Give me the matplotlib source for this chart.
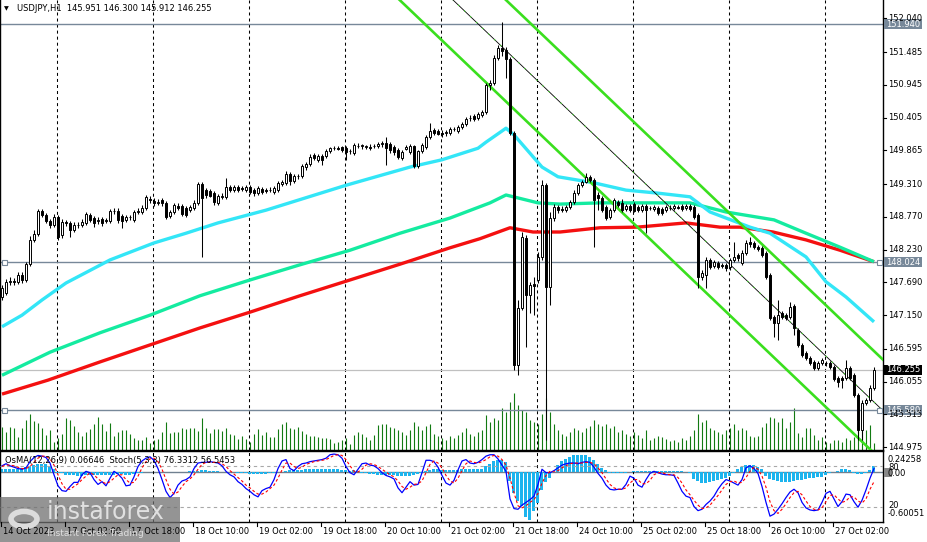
import matplotlib
matplotlib.use("Agg")
import matplotlib.pyplot as plt
import matplotlib.transforms as mtransforms
from matplotlib.patches import Rectangle, Circle
import numpy as np

plt.rcParams['font.family'] = ['DejaVu Sans']

# ---------------------------------------------------------------- data (USDJPY H1)
opens = [
    147.45, 147.52, 147.70, 147.71, 147.70, 147.81, 147.73, 147.99, 148.39, 148.49,
    148.87, 148.80, 148.70, 148.64, 148.77, 148.47, 148.68, 148.67, 148.55, 148.64,
    148.64, 148.67, 148.80, 148.75, 148.70, 148.73, 148.70, 148.70, 148.87, 148.87,
    148.78, 148.72, 148.77, 148.72, 148.85, 148.85, 148.91, 149.06, 149.03, 149.00,
    149.05, 149.00, 148.78, 148.85, 148.95, 148.95, 148.91, 148.88, 148.91, 149.00,
    149.31, 149.21, 149.19, 149.16, 149.00, 149.10, 149.10, 149.26, 149.21, 149.26,
    149.24, 149.21, 149.26, 149.21, 149.16, 149.23, 149.21, 149.21, 149.18, 149.21,
    149.31, 149.33, 149.48, 149.36, 149.44, 149.44, 149.59, 149.64, 149.79, 149.71,
    149.77, 149.77, 149.86, 149.90, 149.90, 149.92, 149.90, 149.86, 149.82, 149.94,
    149.94, 149.92, 149.92, 149.94, 149.94, 149.97, 149.99, 149.97, 149.92, 149.87,
    149.74, 149.89, 149.84, 149.94, 149.61, 149.86, 149.92, 150.09, 150.20, 150.18,
    150.15, 150.15, 150.15, 150.22, 150.18, 150.25, 150.30, 150.40, 150.43, 150.40,
    150.45, 150.50, 150.94, 150.97, 151.39, 151.55, 151.52, 151.37, 150.15, 146.33,
    147.27, 148.42, 147.48, 147.66, 147.73, 148.11, 149.29, 147.61, 148.75, 148.93,
    148.90, 148.88, 148.93, 149.01, 149.16, 149.29, 149.34, 149.43, 149.38, 149.13,
    149.08, 148.93, 148.77, 148.88, 149.01, 149.00, 148.90, 148.95, 148.98, 148.93,
    148.88, 148.95, 148.91, 148.90, 148.91, 148.90, 148.88, 148.91, 148.91, 148.93,
    148.95, 148.91, 148.95, 148.93, 148.80, 147.78, 147.81, 148.06, 147.96, 148.01,
    147.98, 147.98, 147.94, 148.06, 148.14, 148.01, 148.17, 148.36, 148.34, 148.27,
    148.26, 148.17, 147.81, 147.12, 147.02, 147.19, 147.15, 147.12, 147.30, 146.91,
    146.66, 146.53, 146.44, 146.38, 146.28, 146.36, 146.36, 146.36, 146.30, 146.11,
    146.11, 146.11, 146.28, 146.16, 145.84, 145.26, 145.71, 145.75, 145.951,
]
highs = [
    147.65, 147.75, 147.78, 147.76, 147.86, 147.86, 148.03, 148.46, 148.55, 148.90,
    148.90, 148.83, 148.73, 148.82, 148.80, 148.73, 148.72, 148.70, 148.68, 148.68,
    148.73, 148.85, 148.83, 148.78, 148.77, 148.77, 148.75, 148.90, 148.91, 148.91,
    148.82, 148.80, 148.80, 148.88, 148.91, 148.96, 149.13, 149.11, 149.08, 149.06,
    149.08, 149.03, 148.88, 149.00, 149.00, 148.98, 148.95, 148.96, 149.05, 149.34,
    149.34, 149.24, 149.23, 149.19, 149.15, 149.16, 149.41, 149.29, 149.29, 149.29,
    149.28, 149.29, 149.29, 149.24, 149.28, 149.26, 149.24, 149.26, 149.28, 149.36,
    149.38, 149.52, 149.51, 149.48, 149.48, 149.64, 149.67, 149.81, 149.82, 149.81,
    149.81, 149.89, 149.92, 149.94, 149.94, 149.94, 149.94, 149.89, 149.99, 149.99,
    149.97, 149.95, 149.97, 149.97, 150.00, 150.02, 150.09, 150.00, 149.95, 149.90,
    149.87, 149.95, 149.97, 149.95, 149.87, 149.99, 150.12, 150.32, 150.23, 150.22,
    150.20, 150.20, 150.25, 150.25, 150.28, 150.33, 150.41, 150.45, 150.46, 150.50,
    150.53, 150.97, 151.02, 151.44, 151.60, 151.98, 151.57, 151.40, 150.18, 147.40,
    148.52, 148.47, 147.70, 147.78, 148.19, 149.38, 149.33, 148.85, 148.98, 148.96,
    148.95, 148.96, 149.05, 149.21, 149.33, 149.38, 149.49, 149.46, 149.41, 149.18,
    149.11, 148.96, 148.91, 149.08, 149.05, 149.06, 148.98, 148.98, 149.01, 148.96,
    148.98, 148.98, 148.95, 148.96, 148.95, 148.93, 148.96, 148.96, 148.98, 148.96,
    148.98, 148.98, 148.98, 148.96, 148.83, 147.89, 148.11, 148.09, 148.06, 148.04,
    148.01, 148.01, 148.09, 148.36, 148.17, 148.22, 148.39, 148.44, 148.37, 148.31,
    148.29, 148.21, 147.84, 147.15, 147.40, 147.22, 147.19, 147.37, 147.33, 146.94,
    146.69, 146.56, 146.48, 146.41, 146.40, 146.44, 146.40, 146.40, 146.33, 146.15,
    146.15, 146.41, 146.31, 146.20, 145.87, 145.75, 145.79, 146.00, 146.300,
]
lows = [
    147.40, 147.48, 147.65, 147.65, 147.66, 147.68, 147.70, 147.96, 148.36, 148.46,
    148.77, 148.67, 148.59, 148.60, 148.39, 148.42, 148.62, 148.44, 148.52, 148.59,
    148.60, 148.64, 148.68, 148.60, 148.65, 148.62, 148.67, 148.67, 148.82, 148.67,
    148.59, 148.68, 148.72, 148.68, 148.82, 148.82, 148.88, 149.00, 148.95, 148.96,
    148.95, 148.73, 148.75, 148.82, 148.88, 148.78, 148.77, 148.85, 148.88, 148.96,
    148.11, 149.08, 149.10, 148.96, 148.96, 149.06, 149.06, 149.18, 149.18, 149.18,
    149.19, 149.18, 149.15, 149.11, 149.13, 149.15, 149.16, 149.18, 149.15, 149.18,
    149.28, 149.29, 149.29, 149.33, 149.39, 149.41, 149.54, 149.61, 149.71, 149.67,
    149.63, 149.74, 149.82, 149.87, 149.87, 149.84, 149.71, 149.81, 149.79, 149.90,
    149.89, 149.89, 149.87, 149.90, 149.90, 149.92, 149.63, 149.82, 149.79, 149.72,
    149.71, 149.87, 149.81, 149.58, 149.58, 149.82, 149.89, 150.05, 150.12, 150.12,
    150.09, 150.10, 150.12, 150.18, 150.15, 150.22, 150.27, 150.35, 150.35, 150.37,
    150.41, 150.46, 150.86, 150.94, 151.35, 151.42, 151.06, 150.12, 146.25, 146.16,
    147.24, 146.63, 147.19, 147.15, 147.68, 148.06, 145.09, 147.32, 148.70, 148.83,
    148.85, 148.85, 148.90, 148.98, 149.13, 149.26, 149.33, 149.34, 148.27, 148.88,
    148.85, 148.72, 148.73, 148.85, 148.93, 148.85, 148.87, 148.85, 148.85, 148.85,
    148.85, 148.50, 148.88, 148.87, 148.80, 148.80, 148.85, 148.88, 148.88, 148.90,
    148.87, 148.88, 148.87, 148.73, 147.60, 147.73, 147.60, 147.91, 147.93, 147.91,
    147.93, 147.88, 147.89, 148.03, 148.04, 147.98, 148.14, 148.27, 148.24, 148.21,
    148.11, 147.75, 147.07, 146.79, 146.74, 147.09, 147.07, 147.09, 146.82, 146.63,
    146.46, 146.41, 146.33, 146.25, 146.25, 146.33, 146.31, 146.26, 146.07, 145.97,
    145.95, 146.08, 146.08, 145.80, 145.09, 145.09, 145.67, 145.72, 145.912,
]
closes = [
    147.60, 147.70, 147.71, 147.70, 147.81, 147.73, 147.99, 148.39, 148.49, 148.87,
    148.80, 148.70, 148.64, 148.77, 148.44, 148.68, 148.67, 148.55, 148.64, 148.63,
    148.68, 148.82, 148.72, 148.67, 148.72, 148.67, 148.72, 148.87, 148.86, 148.72,
    148.70, 148.77, 148.76, 148.85, 148.87, 148.91, 149.10, 149.05, 149.00, 149.01,
    149.00, 148.77, 148.85, 148.96, 148.91, 148.82, 148.80, 148.93, 149.00, 149.31,
    149.08, 149.13, 149.12, 149.01, 149.11, 149.11, 149.26, 149.21, 149.26, 149.21,
    149.23, 149.26, 149.18, 149.16, 149.24, 149.18, 149.20, 149.22, 149.24, 149.33,
    149.34, 149.48, 149.36, 149.44, 149.45, 149.61, 149.64, 149.76, 149.74, 149.77,
    149.71, 149.86, 149.90, 149.91, 149.89, 149.87, 149.84, 149.85, 149.95, 149.93,
    149.95, 149.93, 149.91, 149.93, 149.97, 149.98, 149.90, 149.87, 149.84, 149.76,
    149.84, 149.92, 149.94, 149.61, 149.86, 149.95, 150.09, 150.18, 150.15, 150.14,
    150.14, 150.16, 150.22, 150.21, 150.25, 150.30, 150.38, 150.39, 150.38, 150.46,
    150.50, 150.94, 150.97, 151.39, 151.55, 151.50, 151.37, 150.15, 146.33, 147.27,
    148.44, 147.48, 147.65, 147.63, 148.11, 149.29, 147.61, 148.75, 148.93, 148.88,
    148.89, 148.93, 149.01, 149.16, 149.29, 149.34, 149.43, 149.38, 149.05, 149.08,
    148.88, 148.75, 148.88, 149.05, 148.96, 148.88, 148.95, 148.88, 148.87, 148.88,
    148.95, 148.88, 148.92, 148.93, 148.83, 148.83, 148.93, 148.92, 148.95, 148.92,
    148.90, 148.95, 148.90, 148.77, 147.78, 147.84, 148.06, 147.94, 148.03, 147.94,
    147.96, 147.93, 148.06, 148.11, 148.09, 148.17, 148.34, 148.32, 148.27, 148.24,
    148.14, 147.78, 147.10, 147.02, 147.15, 147.12, 147.10, 147.28, 146.94, 146.66,
    146.49, 146.44, 146.36, 146.28, 146.36, 146.41, 146.37, 146.30, 146.10, 146.05,
    146.08, 146.28, 146.11, 145.84, 145.26, 145.71, 145.75, 145.95, 146.255,
]
# tick volume, hundreds of ticks
volumes = [
    23, 18, 23, 22, 13, 22, 30, 36, 29, 27, 22, 15, 20, 8, 12, 16, 32, 30, 24, 18,
    14, 18, 21, 26, 33, 26, 19, 27, 14, 18, 20, 20, 16, 12, 10, 10, 13, 7, 10, 11,
    18, 28, 17, 18, 18, 22, 21, 22, 22, 19, 32, 22, 17, 21, 21, 19, 22, 16, 15, 11,
    14, 11, 8, 16, 21, 15, 18, 13, 13, 21, 26, 28, 22, 21, 23, 19, 16, 14, 14, 13,
    12, 12, 11, 7, 8, 10, 12, 6, 15, 18, 16, 13, 10, 15, 25, 26, 26, 23, 22, 20,
    18, 15, 20, 28, 24, 20, 24, 26, 16, 14, 12, 10, 14, 12, 15, 18, 22, 16, 14, 18,
    20, 35, 28, 32, 30, 42, 38, 48, 57, 45, 40, 38, 30, 28, 26, 36, 52, 38, 26, 20,
    16, 14, 18, 22, 20, 18, 22, 24, 30, 26, 24, 26, 22, 24, 18, 20, 16, 14, 18, 15,
    12, 20, 10, 12, 14, 13, 11, 9, 10, 8, 12, 10, 14, 20, 36, 28, 30, 22, 20, 18,
    16, 20, 22, 26, 20, 22, 20, 14, 13, 14, 23, 27, 33, 32, 28, 32, 22, 28, 42, 17,
    13, 22, 22, 15, 10, 13, 8, 7, 10, 10, 8, 12, 10, 13, 20, 23, 20, 25, 7,
]
osma = [
    0.04, 0.04, 0.03, 0.03, 0.04, 0.045, 0.055, 0.07, 0.085, 0.10,
    0.10, 0.095, 0.07, 0.035, -0.01, -0.02, -0.035, -0.04, -0.04, -0.045,
    -0.045, -0.04, -0.04, -0.04, -0.035, -0.035, -0.04, -0.04, -0.035, -0.03,
    -0.03, -0.035, -0.035, -0.03, -0.02, -0.012, -0.004, 0.0, 0.002, 0.0,
    -0.003, -0.004, -0.003, 0.0, 0.002, 0.003, 0.004, 0.006, 0.01, 0.015,
    0.02, 0.02, 0.015, 0.01, 0.006, 0.004, 0.002, 0.0, -0.004, -0.008,
    -0.012, -0.015, -0.022, -0.025, -0.028, -0.028, -0.025, -0.02, -0.014, -0.006,
    0.002, 0.012, 0.018, 0.022, 0.025, 0.028, 0.03, 0.032, 0.034, 0.036,
    0.036, 0.036, 0.038, 0.036, 0.032, 0.028, 0.02, 0.012, 0.02, 0.01,
    -0.01, -0.02, -0.025, -0.03, -0.035, -0.035, -0.04, -0.04, -0.04, -0.045,
    -0.05, -0.05, -0.045, -0.04, -0.03, -0.01, 0.01, 0.025, 0.03, 0.03,
    0.025, 0.02, 0.02, 0.02, 0.025, 0.03, 0.03, 0.03, 0.035, 0.035,
    0.04, 0.07, 0.10, 0.13, 0.15, 0.15, 0.12, -0.11, -0.26, -0.36,
    -0.42, -0.55, -0.59, -0.48, -0.38, -0.22, -0.13, -0.07, -0.01, 0.08,
    0.13, 0.16, 0.18, 0.20, 0.20, 0.20, 0.20, 0.18, 0.14, 0.09,
    0.05, 0.02, -0.012, -0.015, -0.015, -0.012, -0.008, -0.003, 0.005, 0.008,
    0.01, 0.012, 0.014, 0.016, 0.016, 0.016, 0.015, 0.014, 0.012, 0.01,
    0.006, 0.002, -0.01, -0.085, -0.115, -0.135, -0.14, -0.125, -0.115, -0.10,
    -0.085, -0.075, -0.045, -0.012, 0.03, 0.06, 0.078, 0.078, 0.078, 0.06,
    0.03, -0.05, -0.085, -0.10, -0.115, -0.125, -0.125, -0.12, -0.115, -0.10,
    -0.095, -0.085, -0.078, -0.075, -0.065, -0.06, -0.035, -0.012, 0.0, 0.008,
    0.03, 0.03, 0.02, -0.012, -0.025, -0.025, -0.012, 0.02, 0.066,
]
stoch_main = [
    80, 83, 80, 78, 76, 75, 77, 86, 92, 95, 94, 92, 84, 67, 51, 44, 43, 50, 56, 56,
    67, 72, 70, 60, 53, 57, 51, 62, 72, 68, 62, 51, 52, 64, 79, 87, 91, 93, 88, 76,
    60, 43, 34, 40, 52, 58, 60, 64, 76, 84, 85, 85, 86, 85, 84, 80, 72, 67, 64, 57,
    53, 47, 43, 38, 35, 44, 47, 49, 60, 76, 87, 89, 76, 73, 79, 83, 84, 86, 87, 88,
    89, 91, 96, 97, 96, 91, 79, 70, 67, 75, 83, 84, 81, 80, 76, 70, 66, 64, 61, 48,
    41, 49, 57, 52, 53, 70, 88, 88, 86, 78, 66, 55, 52, 59, 74, 87, 89, 84, 83, 85,
    89, 94, 96, 96, 90, 81, 72, 32, 18, 17, 23, 27, 31, 36, 53, 75, 70, 70, 73, 77,
    81, 83, 84, 84, 83, 85, 86, 85, 78, 69, 62, 52, 46, 45, 46, 46, 53, 65, 62, 52,
    49, 60, 69, 72, 70, 68, 67, 67, 66, 55, 43, 36, 34, 21, 15, 17, 24, 29, 36, 46,
    54, 60, 58, 55, 52, 60, 77, 80, 76, 69, 50, 27, 7, 10, 17, 25, 34, 42, 46, 41,
    27, 19, 16, 15, 16, 27, 40, 43, 32, 21, 28, 39, 38, 28, 20, 30, 45, 62, 76,
]
stoch_signal = [
    79, 81, 81, 80, 78, 76, 76, 79, 85, 91, 94, 94, 90, 81, 67, 54, 46, 46, 50, 54,
    60, 65, 70, 67, 61, 57, 54, 57, 62, 67, 67, 60, 55, 56, 65, 77, 86, 90, 91, 86,
    75, 60, 46, 39, 42, 50, 57, 61, 67, 75, 82, 85, 85, 85, 85, 83, 79, 73, 68, 63,
    58, 52, 48, 43, 39, 39, 42, 47, 52, 62, 74, 84, 84, 79, 76, 78, 82, 84, 86, 87,
    88, 89, 92, 95, 96, 95, 89, 80, 72, 71, 75, 81, 83, 82, 79, 75, 71, 67, 64, 58,
    50, 46, 49, 53, 54, 58, 70, 82, 87, 84, 77, 66, 58, 55, 62, 73, 83, 87, 85, 84,
    86, 89, 93, 95, 94, 89, 81, 62, 41, 22, 19, 22, 27, 31, 40, 55, 66, 72, 71, 73,
    77, 80, 83, 84, 84, 84, 85, 85, 83, 77, 70, 61, 53, 48, 46, 46, 48, 55, 60, 60,
    54, 54, 59, 67, 70, 70, 68, 67, 67, 63, 55, 45, 38, 30, 23, 18, 19, 23, 30, 37,
    45, 53, 57, 58, 55, 56, 63, 72, 78, 75, 65, 49, 28, 15, 11, 17, 25, 34, 41, 43,
    38, 29, 21, 17, 16, 19, 28, 37, 38, 32, 27, 29, 35, 35, 29, 26, 32, 46, 57,
]

# moving averages: (bar index, price) vertices
ma_cyan_bars = [0, 5, 10, 16, 27, 38, 46, 54, 66, 86, 102, 110, 119, 121, 126, 128,
                135, 139, 148, 156, 164, 172, 177, 187, 192, 201, 206, 211, 218]
ma_cyan_vals = [146.96, 147.15, 147.40, 147.68, 148.06, 148.34, 148.50, 148.67, 148.88,
                149.29, 149.59, 149.71, 149.90, 150.00, 150.23, 150.12, 149.59, 149.43,
                149.33, 149.21, 149.16, 149.10, 148.85, 148.60, 148.50, 148.11, 147.70,
                147.45, 147.04]
ma_spring_bars = [0, 12, 24.5, 37, 49.5, 62, 74.5, 87, 99.5, 112, 122, 126, 134, 139.5,
                  149.5, 172, 181, 193, 201, 209.5, 218]
ma_spring_vals = [146.16, 146.54, 146.86, 147.15, 147.47, 147.73, 147.98, 148.22, 148.50,
                  148.75, 149.00, 149.13, 149.00, 148.98, 149.00, 149.00, 148.85, 148.72,
                  148.50, 148.27, 148.03]
ma_red_bars = [0, 11.5, 24.5, 37, 49.5, 62, 74.5, 87, 99.5, 112, 119.5, 127, 132.75,
               139.5, 149.5, 158.75, 171, 179.5, 184.5, 192.75, 201, 209.5, 218]
ma_red_vals = [145.85, 146.08, 146.38, 146.66, 146.94, 147.20, 147.47, 147.73, 147.99,
               148.26, 148.41, 148.59, 148.52, 148.52, 148.59, 148.60, 148.67, 148.60,
               148.60, 148.52, 148.39, 148.22, 148.03]

# regression channel (start bar, end bar) and prices at both ends
chan_bars = [95, 221]
chan_upper = [154.29, 146.37]
chan_mid = [153.46, 145.53]
chan_lower = [152.62, 144.69]

levels = [151.940, 148.024, 145.580]
bid = 146.255
price_ticks = [152.040, 151.485, 150.945, 150.405, 149.865, 149.310, 148.770, 148.230,
               147.690, 147.150, 146.595, 146.055, 145.515, 144.975]
time_labels = ["14 Oct 2023", "17 Oct 02:00", "17 Oct 18:00", "18 Oct 10:00",
               "19 Oct 02:00", "19 Oct 18:00", "20 Oct 10:00", "21 Oct 02:00",
               "21 Oct 18:00", "24 Oct 10:00", "25 Oct 02:00", "25 Oct 18:00",
               "26 Oct 10:00", "27 Oct 02:00"]

n = len(closes)
assert all(len(a) == n for a in (opens, highs, lows, volumes, osma, stoch_main, stoch_signal))

# ---------------------------------------------------------------- layout (pixels)
W, H = 928, 542
FS = 6.0
fig = plt.figure(figsize=(W / 100, H / 100), dpi=100)


def rect(x0, y0, x1, y1):
    return [x0 / W, 1 - y1 / H, (x1 - x0) / W, (y1 - y0) / H]


ax = fig.add_axes(rect(0, 0, 883, 450))
sub = fig.add_axes(rect(0, 451, 883, 522))
XLIM = (-0.5, 220.25)
ax.set_xlim(*XLIM)
ax.set_ylim(144.929, 152.342)
for a in (ax, sub):
    a.set_xticks([])
    a.set_yticks([])
    for s in a.spines.values():
        s.set_color("black")
        s.set_linewidth(1.0)
ax.spines["top"].set_visible(False)

x = np.arange(n)
o, h, l, c = map(np.array, (opens, highs, lows, closes))

# volumes along the bottom of the price panel (1 unit = 1 px)
vtr = mtransforms.blended_transform_factory(ax.transData, ax.transAxes)
ax.vlines(x, 0, np.array(volumes) / 450.0, color="#127A12", lw=0.8, transform=vtr, zorder=1)

# vertical dashed grid
grid_x = np.arange(13.75, n, 24)
dash = (0, (2.9, 2.9))
for gx in grid_x:
    ax.axvline(gx, color="black", lw=0.75, ls=dash, zorder=1.5)

# horizontal objects
ax.axhline(bid, color="#C0C0C0", lw=0.9, zorder=2)
for lv in levels:
    ax.axhline(lv, color="#778899", lw=1.0, zorder=2)

# moving averages
ax.plot(ma_red_bars, ma_red_vals, color="#F41010", lw=2.4, zorder=3, solid_capstyle="butt")
ax.plot(ma_spring_bars, ma_spring_vals, color="#14EBA0", lw=2.4, zorder=3, solid_capstyle="butt")
ax.plot(ma_cyan_bars, ma_cyan_vals, color="#33E6F7", lw=2.4, zorder=3, solid_capstyle="butt")

# channel
ax.plot(chan_bars, chan_upper, color="#3ADF1E", lw=1.9, zorder=4)
ax.plot(chan_bars, chan_lower, color="#3ADF1E", lw=1.9, zorder=4)
ax.plot(chan_bars, chan_mid, color="black", lw=0.6, zorder=4)
ax.plot(chan_bars, chan_mid, color="#3ADF1E", lw=0.6, ls=(0, (2, 8)), zorder=4)

# candles
up = c >= o
ax.vlines(x, l, h, color="black", lw=0.75, zorder=5)
ax.bar(x, np.maximum(np.abs(c - o), 0.004), bottom=np.minimum(o, c), width=0.6,
       color=np.where(up, "white", "black"), edgecolor="black", linewidth=0.7, zorder=6)

# small hollow squares on the horizontal lines
for lv in levels[1:]:
    for bx in (0.5, 219.3):
        ax.plot([bx], [lv], marker="s", ms=3.6, mfc="white", mec="#778899", mew=0.8,
                zorder=7, clip_on=False)

# title
fig.text(4 / W, 1 - 8.5 / H, "\u25BC", fontsize=4.5, va="center", ha="left")
fig.text(17 / W, 1 - 8.5 / H, "USDJPY,H1  145.951 146.300 145.912 146.255",
         fontsize=FS, va="center", ha="left")

# right price scale
rtr = mtransforms.blended_transform_factory(fig.transFigure, ax.transData)
for p in price_ticks:
    fig.lines.append(plt.Line2D([883 / W, 886 / W], [p, p], color="black", lw=0.8,
                                transform=rtr, figure=fig))
    fig.text(888 / W, p, f"{p:.3f}", fontsize=FS, va="center", ha="left", transform=rtr)
box_h = 10 * 0.016474
for p, col in ((levels[0], "#778899"), (levels[1], "#778899"), (levels[2], "#778899"), (bid, "black")):
    fig.patches.append(Rectangle((884 / W, p - box_h / 2), 38 / W, box_h, facecolor=col,
                                 edgecolor="none", transform=rtr, figure=fig))
    fig.text(886 / W, p, f"{p:.3f}", fontsize=FS, va="center", ha="left", color="white",
             transform=rtr)

# ---------------------------------------------------------------- indicator panel
sub.set_xlim(*XLIM)
sub.set_ylim(-0.6127, 0.2548)
sub.bar(x, osma, width=0.75, color="#1CB4EE", zorder=2)
sub.axhline(0, color="#708090", lw=1.0, zorder=1)
for gx in grid_x:
    sub.axvline(gx, color="black", lw=0.75, ls=dash, zorder=1.5)

st = sub.twinx()
st.set_xlim(*XLIM)
st.set_ylim(-1.45, 101.45)
st.set_yticks([])
for s in st.spines.values():
    s.set_visible(False)
for lvl in (80, 20):
    st.axhline(lvl, color="#A8A8A8", lw=0.8, ls=(0, (3, 3)), zorder=1)
st.plot(x, stoch_main, color="#0000FF", lw=0.9, zorder=3)
st.plot(x, stoch_signal, color="#FF0000", lw=0.8, ls=(0, (2.5, 2)), zorder=3)

fig.text(5 / W, 1 - 461 / H, "OsMA(12,26,9) 0.06646  Stoch(5,3,3) 76.3312 56.5453",
         fontsize=FS, va="center", ha="left")
fig.text(888 / W, 1 - 459 / H, "0.24258", fontsize=FS, va="center", ha="left")
fig.text(888 / W, 1 - 467 / H, "80", fontsize=FS, va="center", ha="left")
fig.patches.append(Rectangle((884 / W, 1 - 477 / H), 8 / W, 9 / H, facecolor="#888888",
                             edgecolor="none", transform=fig.transFigure, figure=fig))
fig.text(888 / W, 1 - 473 / H, "0.00", fontsize=FS, va="center", ha="left")
fig.text(888 / W, 1 - 506 / H, "20", fontsize=FS, va="center", ha="left")
fig.text(888 / W, 1 - 514 / H, "-0.60051", fontsize=FS, va="center", ha="left")

# time axis
ttr = mtransforms.blended_transform_factory(sub.transData, fig.transFigure)
for k, lab in enumerate(time_labels):
    bx = 16 * k - 0.2
    fig.lines.append(plt.Line2D([bx, bx], [1 - 522 / H, 1 - 526 / H], color="black", lw=0.8,
                                transform=ttr, figure=fig))
    fig.text(bx + 0.5, 1 - 531 / H, lab, fontsize=FS, va="center", ha="left", transform=ttr)

# watermark (semi-transparent, labels show through)
fig.patches.append(Rectangle((0, 0), 180 / W, 45 / H, facecolor="#707070", alpha=0.75,
                             edgecolor="none", transform=fig.transFigure, figure=fig))
fig.patches.append(Circle((24 / W, 1 - 519 / H), 13 / W, facecolor="none", edgecolor="#DCDCDC",
                          lw=4, transform=fig.transFigure, figure=fig))
fig.text(47 / W, 1 - 512 / H, "instaforex", fontsize=17, color="#E0E0E0", va="center",
         ha="left")
fig.text(47 / W, 1 - 534 / H, "Instant Forex Trading", fontsize=6.6, color="#E0E0E0",
         va="center", ha="left")

fig.savefig("out.png", dpi=100, facecolor="white")
